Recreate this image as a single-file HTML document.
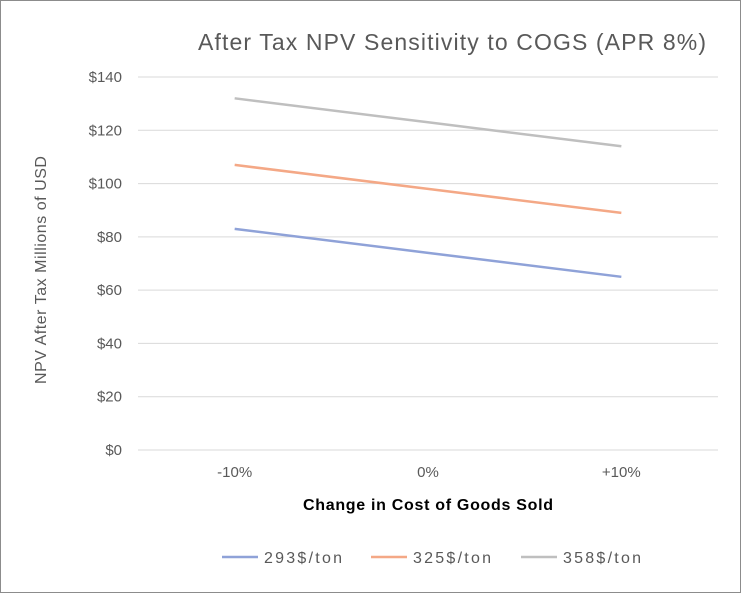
<!DOCTYPE html>
<html><head><meta charset="utf-8"><style>
body{margin:0;background:#fff;}
svg{display:block;font-family:"Liberation Sans",sans-serif;}
</style></head><body>
<svg id="chart" width="741" height="593">
<rect x="0.5" y="0.5" width="740" height="592" fill="#fff" stroke="#8c8c8c"/>
<text x="452" y="50" text-anchor="middle" font-size="23" fill="#595959" textLength="508" lengthAdjust="spacing">After Tax NPV Sensitivity to COGS (APR 8%)</text>
<g id="grid"></g><g id="yt"></g><g id="xt"></g><g id="lines"></g>
<text transform="translate(46,270) rotate(-90)" text-anchor="middle" font-size="16" fill="#595959" textLength="228" lengthAdjust="spacing">NPV After Tax Millions of USD</text>
<text x="428" y="510" text-anchor="middle" font-size="16" font-weight="bold" fill="#000" textLength="250" lengthAdjust="spacing">Change in Cost of Goods Sold</text>
<g id="legend"></g>
</svg>
<script>
const categories=["-10%","0%","+10%"];
const seriesNames=["293$/ton","325$/ton","358$/ton"];
const s293=[83,74,65];
const s325=[107,98,89];
const s358=[132,123,114];
const yTicks=[0,20,40,60,80,100,120,140];
const yLabels=["$0","$20","$40","$60","$80","$100","$120","$140"];
const colors=["#8fa2d8","#f4a886","#bfbfbf"];
const NS="http://www.w3.org/2000/svg";
const X0=138,X1=718,Y0=450,Y1=77;
const y=v=>Y0-(v/140)*(Y0-Y1);
const bw=(X1-X0)/categories.length;
const x=i=>X0+bw*(i+0.5);
function mk(t,a,p){const e=document.createElementNS(NS,t);for(const k in a)e.setAttribute(k,a[k]);p.appendChild(e);return e;}
const grid=document.getElementById('grid'),yt=document.getElementById('yt'),xt=document.getElementById('xt');
yTicks.forEach((v,i)=>{
 const l=mk('line',{x1:X0,x2:X1,y1:y(v),y2:y(v),stroke:'#d9d9d9','stroke-width':1},grid);
 
 
 const t=mk('text',{x:122,y:y(v)+5,'text-anchor':'end','font-size':15,fill:'#595959'},yt);
 t.textContent=yLabels[i];
 
 
});
categories.forEach((c,i)=>{
 const t=mk('text',{x:x(i),y:477,'text-anchor':'middle','font-size':15,fill:'#595959'},xt);
 t.textContent=c;
 
 
});
const lines=document.getElementById('lines');
[s293,s325,s358].forEach((s,k)=>{
 const p=mk('polyline',{points:s.map((v,i)=>x(i)+','+y(v)).join(' '),fill:'none',stroke:colors[k],'stroke-width':2.5},lines);
 
 
});
const lg=document.getElementById('legend');
const lx=[222,371,521];
seriesNames.forEach((n,k)=>{
 const l=mk('line',{x1:lx[k],x2:lx[k]+36,y1:557,y2:557,stroke:colors[k],'stroke-width':2.5},lg);
 
 
 const t=mk('text',{x:lx[k]+42,y:563,'font-size':16,fill:'#595959',textLength:78,lengthAdjust:'spacing'},lg);
 t.textContent=n;
 
 
});
</script>
</body></html>
